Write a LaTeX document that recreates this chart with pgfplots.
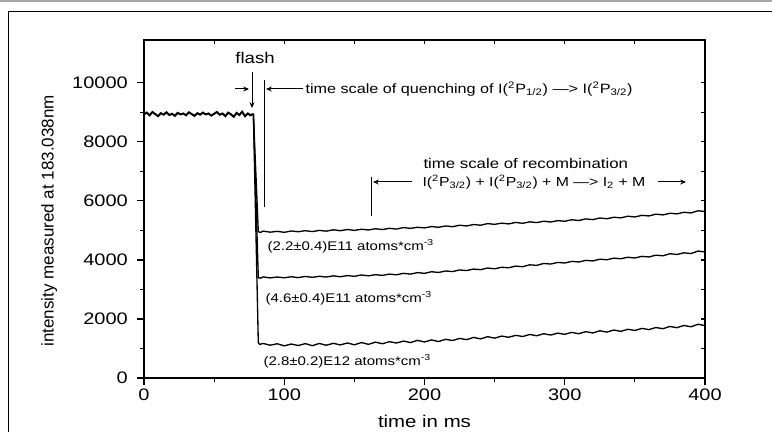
\documentclass[border=0pt]{standalone}
\usepackage{fontspec}
\setmainfont{Liberation Sans}[FakeStretch=1.2]
\newfontfamily\plainfont{Liberation Sans}
\usepackage{pgfplots}
\pgfplotsset{compat=1.18}
\usetikzlibrary{arrows.meta}

\begin{document}
\begin{tikzpicture}
% frame of the figure (pixel grid, 0.6pt per px)
\begin{scope}[x=0.6pt,y=-0.6pt]
\draw[gray!70, line width=0.9pt] (0,0.8) -- (772,0.8);
\draw[black, line width=1.1pt] (8.5,432) -- (8.5,11.5) -- (772,11.5);
\end{scope}

\begin{axis}[
    at={(86.4pt,-226.8pt)}, anchor=south west,
    scale only axis, width=336.6pt, height=202.8pt,
    xmin=0, xmax=400, ymin=0, ymax=11450,
    xtick={0,100,...,400}, minor x tick num=1,
    ytick={0,2000,...,10000}, minor y tick num=1,
    scaled y ticks=false,
    xtick pos=left, ytick pos=left, tick align=outside,
    major tick length=4.2pt, minor tick length=2.4pt,
    axis line style={line width=0.8pt},
    every tick/.style={line width=0.7pt, black},
    /pgf/number format/assume math mode=true,
    /pgf/number format/set thousands separator={},
    tick label style={font=\fontsize{10}{12}\selectfont},
    xticklabel style={yshift=1.5pt},
    yticklabel style={xshift=-2pt},
    xlabel={time in ms},
    xlabel style={at={(axis description cs:0.5,-0.145)}, anchor=base, font=\fontsize{10.2}{12}\selectfont},
    ylabel={intensity measured at 183.038nm},
    ylabel style={at={(axis description cs:-0.169,0.465)}, anchor=center, font=\plainfont\fontsize{10.2}{12}\selectfont},
]
% before the flash (all three runs overlap)
\addplot[black, line width=1.2pt] coordinates {
(0,8930)(2,8990)(4,8900)(6,9010)(8,8940)(10,8870)(12,8970)(14,8920)(16,9000)(18,8910)
(20,8950)(22,8880)(24,8980)(26,8930)(28,8960)(30,8900)(32,9000)(34,8940)(36,8880)(38,8970)
(40,8920)(42,8990)(44,8930)(46,8960)(48,8890)(50,8950)(52,9010)(54,8920)(56,8960)(58,8870)
(60,8990)(62,8930)(64,8850)(66,8980)(68,8910)(70,9020)(72,8870)(74,8960)(76,8900)(78,8950)
};
% (2.2+-0.4)E11
\addplot[black, line width=0.8pt] coordinates {
(78,8950)(81.5,4960)(83,4930)(85,4975)(90,4940)(95,4968)(100,4935)(105,4980)(110,4955)(115,4990)
(120,4960)(125,5000)(130,4975)(135,5020)(140,4990)(145,5030)(150,5000)(155,5040)(160,5015)(165,5055)
(170,5030)(175,5070)(180,5045)(185,5095)(190,5070)(195,5105)(200,5085)(205,5130)(210,5105)(215,5150)
(220,5125)(225,5175)(230,5150)(235,5200)(240,5175)(245,5230)(250,5205)(255,5245)(260,5220)(265,5270)
(270,5240)(275,5290)(280,5265)(285,5310)(290,5285)(295,5330)(300,5310)(305,5360)(310,5335)(315,5390)
(320,5365)(325,5420)(330,5395)(335,5445)(340,5425)(345,5480)(350,5455)(355,5510)(360,5490)(365,5550)
(370,5525)(375,5580)(380,5560)(385,5615)(390,5590)(395,5665)(400,5640)
};
% (4.6+-0.4)E11
\addplot[black, line width=0.8pt] coordinates {
(78,8950)(81.5,3400)(83,3380)(85,3425)(90,3390)(95,3420)(100,3395)(105,3430)(110,3400)(115,3440)
(120,3410)(125,3445)(130,3420)(135,3460)(140,3430)(145,3470)(150,3445)(155,3490)(160,3460)(165,3500)
(170,3475)(175,3520)(180,3495)(185,3545)(190,3520)(195,3570)(200,3545)(205,3600)(210,3575)(215,3625)
(220,3605)(225,3660)(230,3640)(235,3690)(240,3670)(245,3725)(250,3700)(255,3750)(260,3735)(265,3790)
(270,3770)(275,3835)(280,3815)(285,3880)(290,3860)(295,3915)(300,3895)(305,3950)(310,3930)(315,3985)
(320,3965)(325,4025)(330,4005)(335,4060)(340,4040)(345,4090)(350,4065)(355,4120)(360,4100)(365,4160)
(370,4140)(375,4210)(380,4185)(385,4240)(390,4215)(395,4300)(400,4270)
};
% (2.8+-0.2)E12
\addplot[black, line width=0.8pt] coordinates {
(78,8950)(81.5,1200)(82.5,1140)(85,1170)(90,1110)(95,1160)(100,1090)(105,1150)(110,1100)(115,1165)
(120,1095)(125,1170)(130,1110)(135,1175)(140,1120)(145,1185)(150,1125)(155,1200)(160,1140)(165,1215)
(170,1160)(175,1230)(180,1185)(185,1250)(190,1200)(195,1275)(200,1220)(205,1290)(210,1235)(215,1310)
(220,1270)(225,1340)(230,1300)(235,1375)(240,1325)(245,1400)(250,1350)(255,1420)(260,1380)(265,1445)
(270,1405)(275,1475)(280,1430)(285,1500)(290,1455)(295,1520)(300,1480)(305,1545)(310,1500)(315,1570)
(320,1525)(325,1600)(330,1555)(335,1625)(340,1580)(345,1650)(350,1610)(355,1680)(360,1640)(365,1710)
(370,1670)(375,1745)(380,1705)(385,1780)(390,1735)(395,1820)(400,1775)
};
\end{axis}

% inward ticks on top and right
\begin{axis}[
    at={(86.4pt,-226.8pt)}, anchor=south west,
    scale only axis, width=336.6pt, height=202.8pt,
    xmin=0, xmax=400, ymin=0, ymax=11450,
    xtick={0,100,...,400}, minor x tick num=1,
    ytick={0,2000,...,10000}, minor y tick num=1,
    scaled y ticks=false, scaled x ticks=false,
    xtick pos=right, ytick pos=right, tick align=inside,
    major tick length=2.6pt, minor tick length=2.6pt,
    axis line style={line width=0.8pt},
    every tick/.style={line width=0.7pt, black},
    xticklabels={}, yticklabels={},
]
\end{axis}

% annotations (pixel grid)
\begin{scope}[x=0.6pt,y=-0.6pt, >={Stealth[length=3.5pt,width=3pt]}, line width=0.6pt]
\node[font=\fontsize{9.3}{11}\selectfont] at (255,58) {flash};
\draw[->] (252,72) -- (252,108);
\draw[->] (235,89) -- (249,89);
\draw (264,80) -- (264,207);
\draw[->] (303,89) -- (266,89);
\node[anchor=west, inner sep=0pt, font=\fontsize{8.1}{10}\selectfont] at (305,89)
  {time scale of quenching of I(\textsuperscript{2}P\textsubscript{1/2}) ---{>} I(\textsuperscript{2}P\textsubscript{3/2})};
\draw (371,177) -- (371,216);
\draw[->] (412,182) -- (373,182);
\node[anchor=west, inner sep=0pt, font=\fontsize{8.4}{10}\selectfont] at (423,163) {time scale of recombination};
\node[anchor=west, inner sep=0pt, font=\fontsize{7.9}{10}\selectfont] at (422,182)
  {I(\textsuperscript{2}P\textsubscript{3/2}) + I(\textsuperscript{2}P\textsubscript{3/2}) + M ---{>} I\textsubscript{2} + M};
\draw[->] (658,182) -- (686,182);
\node[anchor=west, inner sep=0pt, font=\fontsize{7.5}{9}\selectfont] at (267,246) {(2.2±0.4)E11 atoms*cm\textsuperscript{-3}};
\node[anchor=west, inner sep=0pt, font=\fontsize{7.5}{9}\selectfont] at (265,298) {(4.6±0.4)E11 atoms*cm\textsuperscript{-3}};
\node[anchor=west, inner sep=0pt, font=\fontsize{7.5}{9}\selectfont] at (263,361) {(2.8±0.2)E12 atoms*cm\textsuperscript{-3}};
\pgfresetboundingbox
\useasboundingbox (0,0) rectangle (772,432);
\end{scope}
\end{tikzpicture}
\end{document}
